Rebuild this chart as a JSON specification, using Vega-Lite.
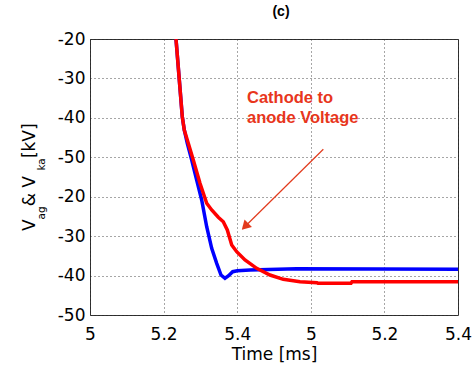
{
  "$schema": "https://vega.github.io/schema/vega-lite/v6.json",
  "width": 368,
  "height": 276,
  "autosize": "none",
  "padding": {"left": 90, "top": 39, "right": 15, "bottom": 50},
  "background": "white",
  "title": {"text": "(c)", "font": "Liberation Sans", "fontSize": 14, "fontWeight": "bold", "color": "#000", "anchor": "middle", "dx": 7, "offset": 11},
  "config": {
    "view": {"stroke": "#333", "strokeWidth": 1},
    "axis": {
      "labelFont": "DejaVu Sans", "labelFontSize": 17, "labelColor": "#000",
      "titleFont": "DejaVu Sans", "titleFontSize": 17, "titleFontWeight": "normal", "titleColor": "#000",
      "ticks": false, "domain": false, "labelFlush": false, "labelOverlap": false,
      "gridColor": "#222", "gridDash": [1, 3], "gridOpacity": 0.8, "gridWidth": 1
    }
  },
  "datasets": {
    "curves": [
      {"series": "Vka", "t": 5.2337, "v": -20.0},
      {"series": "Vka", "t": 5.2427, "v": -30.40},
      {"series": "Vka", "t": 5.2508, "v": -39.71},
      {"series": "Vka", "t": 5.2562, "v": -43.08},
      {"series": "Vka", "t": 5.2671, "v": -46.45},
      {"series": "Vka", "t": 5.2807, "v": -50.69},
      {"series": "Vka", "t": 5.2989, "v": -56.60},
      {"series": "Vka", "t": 5.3171, "v": -61.67},
      {"series": "Vka", "t": 5.3307, "v": -63.37},
      {"series": "Vka", "t": 5.3486, "v": -65.22},
      {"series": "Vka", "t": 5.3622, "v": -66.34},
      {"series": "Vka", "t": 5.3731, "v": -68.44},
      {"series": "Vka", "t": 5.3851, "v": -72.25},
      {"series": "Vka", "t": 5.3986, "v": -73.95},
      {"series": "Vka", "t": 5.4212, "v": -76.05},
      {"series": "Vka", "t": 5.4530, "v": -78.16},
      {"series": "Vka", "t": 5.4891, "v": -79.86},
      {"series": "Vka", "t": 5.5253, "v": -80.95},
      {"series": "Vka", "t": 5.5707, "v": -81.56},
      {"series": "Vka", "t": 5.6168, "v": -81.81},
      {"series": "Vka", "t": 5.6196, "v": -81.96},
      {"series": "Vka", "t": 5.7092, "v": -81.96},
      {"series": "Vka", "t": 5.7120, "v": -81.56},
      {"series": "Vka", "t": 6.0, "v": -81.56},
      {"series": "Vag", "t": 5.2337, "v": -20.0},
      {"series": "Vag", "t": 5.2427, "v": -30.40},
      {"series": "Vag", "t": 5.2508, "v": -39.71},
      {"series": "Vag", "t": 5.2562, "v": -43.08},
      {"series": "Vag", "t": 5.2644, "v": -46.45},
      {"series": "Vag", "t": 5.2764, "v": -50.69},
      {"series": "Vag", "t": 5.2899, "v": -55.76},
      {"series": "Vag", "t": 5.3035, "v": -60.83},
      {"series": "Vag", "t": 5.3171, "v": -67.61},
      {"series": "Vag", "t": 5.3307, "v": -73.08},
      {"series": "Vag", "t": 5.3443, "v": -76.89},
      {"series": "Vag", "t": 5.3560, "v": -79.86},
      {"series": "Vag", "t": 5.3668, "v": -80.69},
      {"series": "Vag", "t": 5.3758, "v": -80.11},
      {"series": "Vag", "t": 5.3878, "v": -79.02},
      {"series": "Vag", "t": 5.4003, "v": -78.77},
      {"series": "Vag", "t": 5.4348, "v": -78.59},
      {"series": "Vag", "t": 5.5617, "v": -78.26},
      {"series": "Vag", "t": 6.0, "v": -78.41}
    ],
    "arrow": [
      {"t0": 5.634, "v0": -47.97, "t1": 5.4212, "v1": -67.56}
    ],
    "one": [{}]
  },
  "layer": [
    {
      "data": {"name": "curves"},
      "transform": [{"filter": "datum.series === 'Vag'"}],
      "mark": {"type": "line", "color": "#0000ff", "strokeWidth": 3.5, "clip": true},
      "encoding": {
        "x": {"field": "t", "type": "quantitative", "scale": {"domain": [5, 6], "nice": false, "zero": false},
          "axis": {"title": "Time [ms]", "values": [5, 5.2, 5.4, 5.6, 5.8, 6], "tickCount": 12, "grid": true, "labelPadding": 11, "titlePadding": 4, "labelOverlap": false,
            "labelExpr": "datum.value < 5.5 ? format(datum.value, '.1~f') : format(datum.value - 0.6, '.1~f')"}},
        "y": {"field": "v", "type": "quantitative", "scale": {"domain": [-90, -20], "nice": false, "zero": false},
          "axis": {"title": null, "values": [-90, -80, -70, -60, -50, -40, -30, -20], "tickCount": 12, "grid": true, "labelPadding": 5, "labelOverlap": false,
            "labelExpr": "'' + (datum.value >= -50 ? datum.value : datum.value + 40)"}},
        "order": {"field": "t", "type": "quantitative"}
      }
    },
    {
      "data": {"name": "curves"},
      "transform": [{"filter": "datum.series === 'Vka'"}],
      "mark": {"type": "line", "color": "#ff0000", "strokeWidth": 3.5, "clip": true},
      "encoding": {
        "x": {"field": "t", "type": "quantitative"},
        "y": {"field": "v", "type": "quantitative"},
        "order": {"field": "t", "type": "quantitative"}
      }
    },
    {
      "data": {"name": "arrow"},
      "mark": {"type": "rule", "color": "#e23a1c", "strokeWidth": 1.2},
      "encoding": {
        "x": {"field": "t0", "type": "quantitative"},
        "y": {"field": "v0", "type": "quantitative"},
        "x2": {"field": "t1"},
        "y2": {"field": "v1"}
      }
    },
    {
      "data": {"name": "arrow"},
      "mark": {"type": "point", "shape": "triangle-up", "filled": true, "color": "#e23a1c", "opacity": 1, "size": 110, "angle": 225},
      "encoding": {
        "x": {"field": "t1", "type": "quantitative"},
        "y": {"field": "v1", "type": "quantitative"}
      }
    },
    {
      "data": {"name": "one"},
      "mark": {"type": "text", "text": ["Cathode to", "anode Voltage"], "align": "left", "baseline": "alphabetic", "font": "Liberation Sans", "fontSize": 16.5, "fontWeight": "bold", "lineHeight": 20.6, "color": "#e8361c"},
      "encoding": {"x": {"datum": 5.4266, "type": "quantitative"}, "y": {"datum": -36.16, "type": "quantitative"}}
    },
    {
      "data": {"name": "one"},
      "mark": {"type": "text", "text": "V", "angle": 270, "align": "left", "baseline": "alphabetic", "font": "DejaVu Sans", "fontSize": 17, "color": "#000"},
      "encoding": {"x": {"datum": 4.8492, "type": "quantitative"}, "y": {"datum": -68.70, "type": "quantitative"}}
    },
    {
      "data": {"name": "one"},
      "mark": {"type": "text", "text": "ag", "angle": 270, "align": "left", "baseline": "alphabetic", "font": "DejaVu Sans", "fontSize": 10.5, "color": "#000"},
      "encoding": {"x": {"datum": 4.8777, "type": "quantitative"}, "y": {"datum": -65.75, "type": "quantitative"}}
    },
    {
      "data": {"name": "one"},
      "mark": {"type": "text", "text": " & V", "angle": 270, "align": "left", "baseline": "alphabetic", "font": "DejaVu Sans", "fontSize": 17, "color": "#000"},
      "encoding": {"x": {"datum": 4.8492, "type": "quantitative"}, "y": {"datum": -62.43, "type": "quantitative"}}
    },
    {
      "data": {"name": "one"},
      "mark": {"type": "text", "text": "ka", "angle": 270, "align": "left", "baseline": "alphabetic", "font": "DejaVu Sans", "fontSize": 10.5, "color": "#000"},
      "encoding": {"x": {"datum": 4.8777, "type": "quantitative"}, "y": {"datum": -53.38, "type": "quantitative"}}
    },
    {
      "data": {"name": "one"},
      "mark": {"type": "text", "text": " [kV]", "angle": 270, "align": "left", "baseline": "alphabetic", "font": "DejaVu Sans", "fontSize": 17, "color": "#000"},
      "encoding": {"x": {"datum": 4.8492, "type": "quantitative"}, "y": {"datum": -50.21, "type": "quantitative"}}
    }
  ]
}
